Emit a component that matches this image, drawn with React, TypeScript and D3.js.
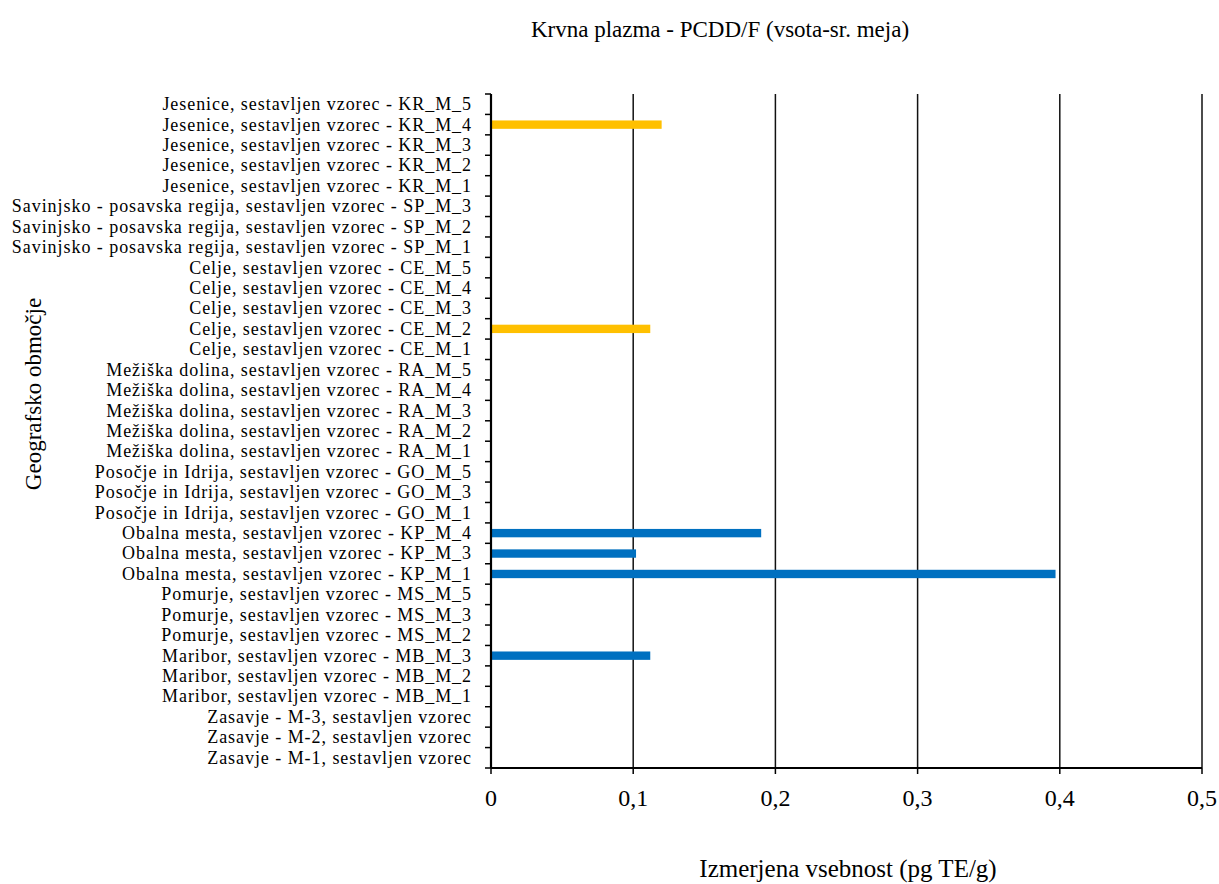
import React from "react";
import * as d3 from "d3";

const categories: string[] = [
  "Jesenice, sestavljen vzorec - KR_M_5",
  "Jesenice, sestavljen vzorec - KR_M_4",
  "Jesenice, sestavljen vzorec - KR_M_3",
  "Jesenice, sestavljen vzorec - KR_M_2",
  "Jesenice, sestavljen vzorec - KR_M_1",
  "Savinjsko - posavska regija, sestavljen vzorec - SP_M_3",
  "Savinjsko - posavska regija, sestavljen vzorec - SP_M_2",
  "Savinjsko - posavska regija, sestavljen vzorec - SP_M_1",
  "Celje, sestavljen vzorec - CE_M_5",
  "Celje, sestavljen vzorec - CE_M_4",
  "Celje, sestavljen vzorec - CE_M_3",
  "Celje, sestavljen vzorec - CE_M_2",
  "Celje, sestavljen vzorec - CE_M_1",
  "Mežiška dolina, sestavljen vzorec - RA_M_5",
  "Mežiška dolina, sestavljen vzorec - RA_M_4",
  "Mežiška dolina, sestavljen vzorec - RA_M_3",
  "Mežiška dolina, sestavljen vzorec - RA_M_2",
  "Mežiška dolina, sestavljen vzorec - RA_M_1",
  "Posočje in Idrija, sestavljen vzorec - GO_M_5",
  "Posočje in Idrija, sestavljen vzorec - GO_M_3",
  "Posočje in Idrija, sestavljen vzorec - GO_M_1",
  "Obalna mesta, sestavljen vzorec - KP_M_4",
  "Obalna mesta, sestavljen vzorec - KP_M_3",
  "Obalna mesta, sestavljen vzorec - KP_M_1",
  "Pomurje, sestavljen vzorec - MS_M_5",
  "Pomurje, sestavljen vzorec - MS_M_3",
  "Pomurje, sestavljen vzorec - MS_M_2",
  "Maribor, sestavljen vzorec - MB_M_3",
  "Maribor, sestavljen vzorec - MB_M_2",
  "Maribor, sestavljen vzorec - MB_M_1",
  "Zasavje - M-3, sestavljen vzorec",
  "Zasavje - M-2, sestavljen vzorec",
  "Zasavje - M-1, sestavljen vzorec",
];

const values: (number | null)[] = [
  null, 0.12, null, null, null,
  null, null, null,
  null, null, null, 0.112, null,
  null, null, null, null, null,
  null, null, null,
  0.19, 0.102, 0.397,
  null, null, null,
  0.112, null, null,
  null, null, null,
];

const barColors: string[] = [
  "#0070C0", "#FFC000", "#0070C0", "#0070C0", "#0070C0",
  "#0070C0", "#0070C0", "#0070C0",
  "#FFC000", "#FFC000", "#FFC000", "#FFC000", "#FFC000",
  "#0070C0", "#0070C0", "#0070C0", "#0070C0", "#0070C0",
  "#0070C0", "#0070C0", "#0070C0",
  "#0070C0", "#0070C0", "#0070C0",
  "#0070C0", "#0070C0", "#0070C0",
  "#0070C0", "#0070C0", "#0070C0",
  "#0070C0", "#0070C0", "#0070C0",
];

const xTicks: number[] = [0, 0.1, 0.2, 0.3, 0.4, 0.5];
const xTickLabels: string[] = ["0", "0,1", "0,2", "0,3", "0,4", "0,5"];

const title = "Krvna plazma - PCDD/F (vsota-sr. meja)";
const xTitle = "Izmerjena vsebnost (pg TE/g)";
const yTitle = "Geografsko območje";

export default function App() {
  const W = 1219;
  const H = 884;
  const left = 491;
  const right = 1202;
  const top = 94;
  const bottom = 768;
  const font = "'Liberation Serif', 'Times New Roman', serif";

  const x = d3.scaleLinear().domain([0, 0.5]).range([left, right]);
  const y = d3
    .scaleBand<string>()
    .domain(categories)
    .range([top, bottom])
    .paddingInner(0.59)
    .paddingOuter(0.295);
  const step = y.step();
  const boundaries = d3.range(categories.length + 1).map((i) => top + i * step);

  return (
    <svg width={W} height={H} style={{ position: "absolute", left: 0, top: 0, background: "#fff" }}>
      <rect x={0} y={0} width={W} height={H} fill="#fff" />
      <text x={720} y={37} textAnchor="middle" fontFamily={font} fontSize={23}>
        {title}
      </text>
      {xTicks.slice(1).map((t) => (
        <line key={"g" + t} x1={x(t)} x2={x(t)} y1={top} y2={bottom} stroke="#111" strokeWidth={1.5} />
      ))}
      {categories.map((c, i) =>
        values[i] != null ? (
          <rect
            key={"b" + i}
            x={x(0)}
            y={y(c)!}
            width={x(values[i] as number) - x(0)}
            height={y.bandwidth()}
            fill={barColors[i]}
          />
        ) : null
      )}
      <line x1={left} x2={left} y1={top} y2={bottom} stroke="#000" strokeWidth={2.2} />
      {boundaries.map((b, i) => (
        <line key={"yt" + i} x1={left - 6} x2={left} y1={b} y2={b} stroke="#000" strokeWidth={1.5} />
      ))}
      <line x1={left} x2={right} y1={bottom} y2={bottom} stroke="#000" strokeWidth={2.2} />
      {xTicks.map((t) => (
        <line key={"xt" + t} x1={x(t)} x2={x(t)} y1={bottom} y2={bottom + 6} stroke="#000" strokeWidth={1.5} />
      ))}
      {categories.map((c, i) => (
        <text
          key={"l" + i}
          x={472}
          y={y(c)! + y.bandwidth() / 2}
          dy="0.33em"
          textAnchor="end"
          fontFamily={font}
          fontSize={18}
          letterSpacing={0.95}
        >
          {c}
        </text>
      ))}
      {xTicks.map((t, i) => (
        <text key={"xl" + t} x={x(t)} y={806} textAnchor="middle" fontFamily={font} fontSize={24}>
          {xTickLabels[i]}
        </text>
      ))}
      <text x={848} y={877} textAnchor="middle" fontFamily={font} fontSize={25}>
        {xTitle}
      </text>
      <text
        transform={`translate(41, 394) rotate(-90)`}
        textAnchor="middle"
        fontFamily={font}
        fontSize={23}
      >
        {yTitle}
      </text>
    </svg>
  );
}
